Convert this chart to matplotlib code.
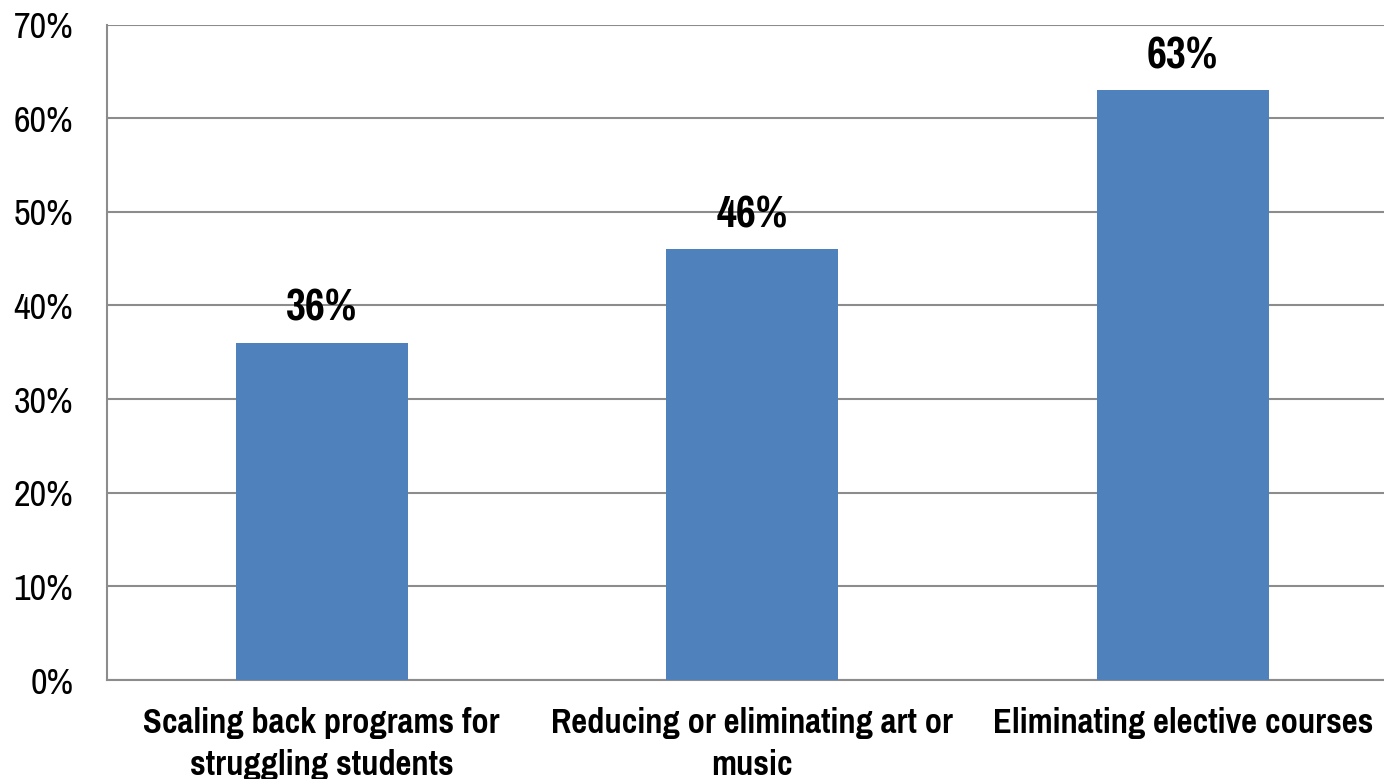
import matplotlib
matplotlib.use("Agg")
import matplotlib.pyplot as plt
from matplotlib.ticker import PercentFormatter, MultipleLocator

categories = [
    "Scaling back programs for\nstruggling students",
    "Reducing or eliminating art or\nmusic",
    "Eliminating elective courses",
]
values = [36, 46, 63]
value_labels = ["36%", "46%", "63%"]

plt.rcParams["font.family"] = ["Pragati Narrow", "Liberation Sans", "DejaVu Sans"]

fig = plt.figure(figsize=(13.84, 7.79), dpi=100)
ax = fig.add_axes([106.5 / 1384, 99 / 779, 1291.5 / 1384, 655.5 / 779])

x = range(len(categories))
bars = ax.bar(x, values, width=0.4, color="#4F81BD", zorder=3)

ax.set_xlim(-0.5, len(categories) - 0.5)
ax.set_ylim(0, 70)
ax.yaxis.set_major_locator(MultipleLocator(10))
ax.yaxis.set_major_formatter(PercentFormatter(decimals=0))

ax.grid(axis="y", color="#8C8C8C", linewidth=1.5, zorder=0)
for side in ("top", "right"):
    ax.spines[side].set_visible(False)
for side in ("left", "bottom"):
    ax.spines[side].set_color("#8C8C8C")
    ax.spines[side].set_linewidth(1.5)

ax.set_xticks(list(x))
ax.set_xticklabels(categories, fontsize=27, fontweight="bold", linespacing=1.38)
ax.tick_params(axis="x", length=0, pad=19.5)
ax.tick_params(axis="y", length=0, pad=24, labelsize=28.5)

for rect, v, lbl in zip(bars, values, value_labels):
    ax.annotate(lbl, (rect.get_x() + rect.get_width() / 2, v),
                xytext=(0, 10), textcoords="offset points",
                ha="center", va="bottom", fontsize=34, fontweight="bold")

fig.savefig("out.png", dpi=100)
